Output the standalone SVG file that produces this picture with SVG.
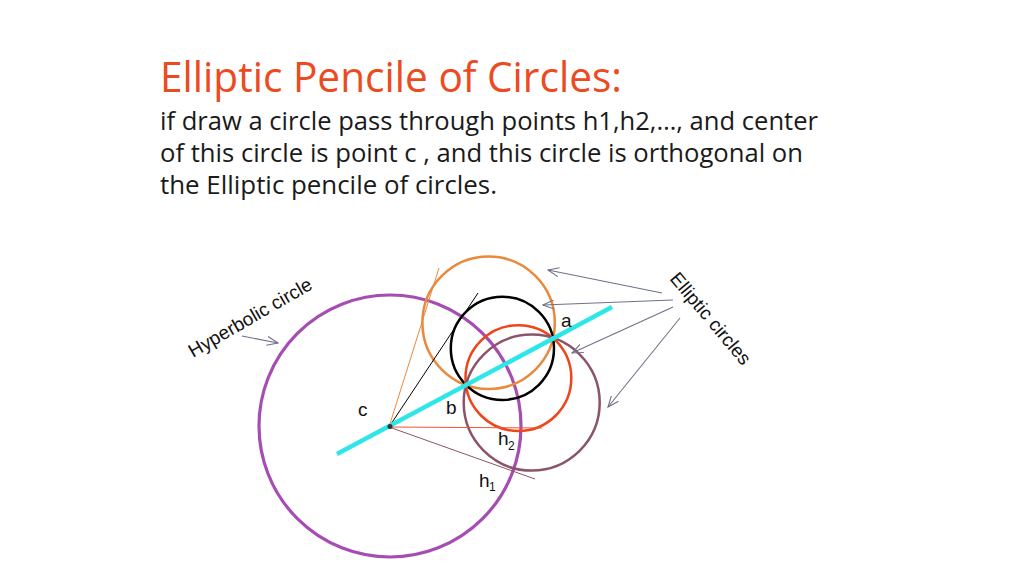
<svg xmlns="http://www.w3.org/2000/svg" width="1024" height="576" viewBox="0 0 1024 576">
<style>
.title{font-family:"Open Sans","Noto Sans","Liberation Sans",sans-serif;font-size:42px;fill:#EC4B1F}
.body{font-family:"Open Sans","Noto Sans","Liberation Sans",sans-serif;font-size:25px;fill:#1a1a1a}
.lbl{font-family:"Liberation Sans",Arial,sans-serif;font-size:19px;fill:#111}
.sub{font-family:"Liberation Sans",Arial,sans-serif;font-size:12px;fill:#111}
.c{fill:none;stroke-width:2.5}
.arr{stroke:#6E7288;stroke-width:1.1;fill:none;marker-end:url(#ah)}
</style>
<defs>
<marker id="ah" viewBox="0 0 12 10" refX="11" refY="5" markerWidth="12" markerHeight="10" markerUnits="userSpaceOnUse" orient="auto">
<polyline points="0,0.5 11,5 0,9.5" fill="none" stroke="#6E7288" stroke-width="1.1"/>
</marker>
</defs>
<rect width="1024" height="576" fill="#ffffff"/>
<g id="title">
<text class="title" x="160" y="92" textLength="462" lengthAdjust="spacingAndGlyphs">Elliptic Pencile of Circles:</text>
<text class="body" x="160" y="130" textLength="658" lengthAdjust="spacingAndGlyphs">if draw a circle pass through points h1,h2,…, and center</text>
<text class="body" x="160" y="162" textLength="643" lengthAdjust="spacingAndGlyphs">of this circle is point c , and this circle is orthogonal on</text>
<text class="body" x="160" y="194" textLength="337" lengthAdjust="spacingAndGlyphs">the Elliptic pencile of circles.</text>
</g>
<g id="hyperbolic-circle">
<circle cx="390" cy="426" r="131" fill="none" stroke="#A64DB3" stroke-width="3.2"/>
</g>
<g id="orange-circle"><circle class="c" cx="488.6" cy="322.8" r="66.2" stroke="#E8893C"/></g>
<g id="black-circle"><circle class="c" cx="502.4" cy="348.3" r="51.6" stroke="#000"/></g>
<g id="red-circle"><circle class="c" cx="518.4" cy="378.1" r="52.9" stroke="#EE4519"/></g>
<g id="mauve-circle"><circle class="c" cx="531.7" cy="402.6" r="68" stroke="#8B5468"/></g>
<g id="connectors">
<line x1="389" y1="427" x2="439" y2="268" stroke="#E8893C" stroke-width="1"/>
<line x1="389" y1="427" x2="478" y2="293" stroke="#000" stroke-width="1"/>
<line x1="389" y1="427" x2="542" y2="428" stroke="#EE5533" stroke-width="1"/>
<line x1="389" y1="427" x2="535" y2="479" stroke="#8B5468" stroke-width="1"/>
<line x1="337" y1="454" x2="612" y2="307" stroke="#2EE6E8" stroke-width="4.5"/>
<line class="arr" x1="662" y1="293" x2="548" y2="270"/>
<line class="arr" x1="673" y1="300" x2="543" y2="305"/>
<line class="arr" x1="673" y1="307" x2="572" y2="353"/>
<line class="arr" x1="680" y1="318" x2="608" y2="407"/>
<line class="arr" x1="242" y1="336" x2="278" y2="343"/>
</g>
<g id="point-c"><circle cx="390" cy="426.5" r="2.5" fill="#333"/></g>
<g id="labels">
<text class="lbl" x="561" y="327">a</text>
<text class="lbl" x="446" y="414">b</text>
<text class="lbl" x="358" y="416">c</text>
<text class="lbl" x="498" y="445">h</text><text class="sub" x="508" y="450">2</text>
<text class="lbl" x="479" y="487">h</text><text class="sub" x="489" y="491">1</text>
<text class="lbl" transform="translate(193,358) rotate(-30)">Hyperbolic circle</text>
<text class="lbl" transform="translate(669,279) rotate(50)">Elliptic circles</text>
</g>
</svg>
